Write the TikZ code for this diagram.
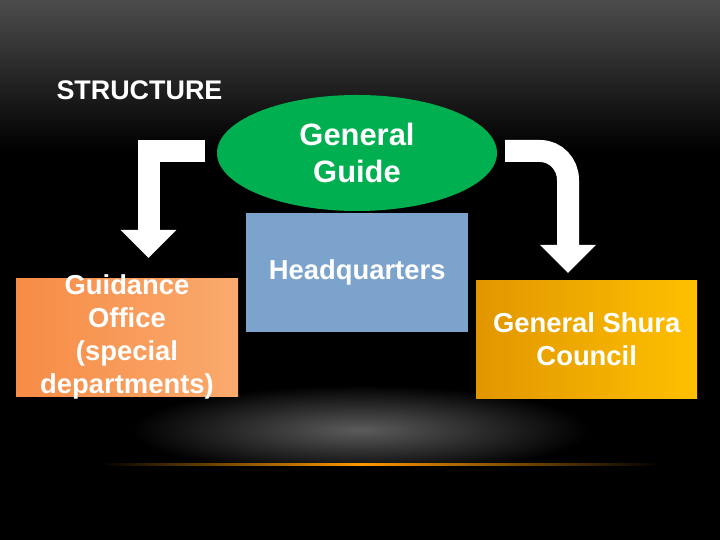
\documentclass[tikz,border=0pt]{standalone}
\usepackage{fontspec}
\setmainfont{Liberation Sans}
\usetikzlibrary{arrows.meta,shapes.geometric}
\begin{document}
\begin{tikzpicture}[x=1bp,y=1bp,
  lbl/.style={text=white,font=\bfseries\fontsize{27.5}{33}\selectfont,align=center},
  bigarrow/.style={white,line width=22bp,-{Triangle[width=54bp,length=28bp]}}]
\useasboundingbox (0,0) rectangle (720,540);
\fill[black] (0,0) rectangle (720,540);
\shade[top color=black!70!white, bottom color=black] (0,540) rectangle (720,390);
\shade[inner color=black!40!white, outer color=black, opacity=0.6] (360,110) ellipse (230 and 45);
\fill[black] (0,0) rectangle (720,75);
\shade[left color=black, right color=orange!80!yellow] (100,74) rectangle (360,76);
\shade[right color=black, left color=orange!80!yellow] (360,74) rectangle (660,76);
\node[text=white,font=\bfseries\fontsize{27}{30}\selectfont,anchor=west] (title) at (53,450) {STRUCTURE};
\node[ellipse,fill={rgb,255:red,0;green,176;blue,80},minimum width=280bp,minimum height=116bp,lbl,font=\bfseries\fontsize{31}{37}\selectfont] (gg) at (357,387) {General\\Guide};
\node[fill={rgb,255:red,124;green,163;blue,204},minimum width=222bp,minimum height=119bp,anchor=north west,lbl] (hq) at (246,327) {Headquarters};
\node[left color={rgb,255:red,247;green,140;blue,70},right color={rgb,255:red,250;green,170;blue,110},minimum width=222bp,minimum height=118bp,anchor=north west] (go) at (16,262) {};
\node[lbl] (got) at (127,203) {Guidance\\Office\\(special\\departments)};
\node[left color={rgb,255:red,225;green,150;blue,0},right color={rgb,255:red,255;green,192;blue,0},minimum width=221bp,minimum height=118bp,anchor=north west,lbl] (gs) at (476,260) {General Shura\\Council};
\coordinate (l1) at (205,389);
\coordinate (r1) at (505,389);
\draw[bigarrow] (l1) -- (148.5,389) -- (148.5,282);
\draw[bigarrow] (r1) -- (540,389) to[out=0,in=90] (568,360) -- (568,267);
\end{tikzpicture}
\end{document}
